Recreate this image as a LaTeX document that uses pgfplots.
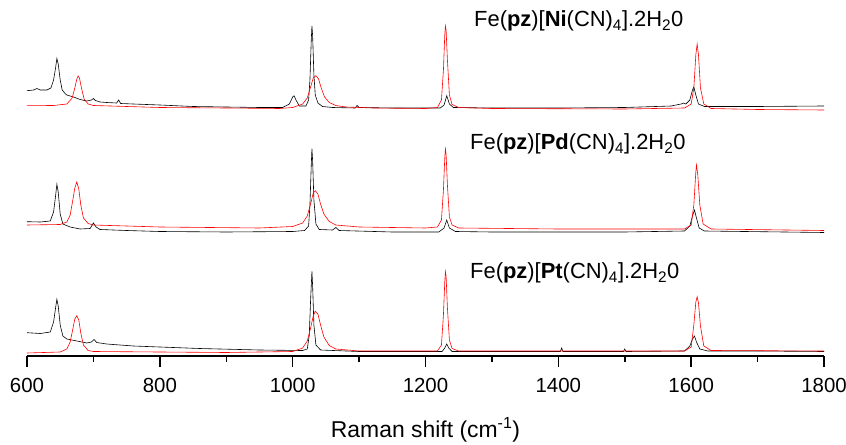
\documentclass[border=0pt]{standalone}
\usepackage{fontspec}
\setmainfont{Liberation Sans}
\usepackage{pgfplots}
\pgfplotsset{compat=1.18}
\begin{document}
\begin{tikzpicture}
\useasboundingbox (-27bp,-89bp) rectangle (819bp,356bp);
\begin{axis}[
  at={(0,0)}, anchor=south west,
  scale only axis, width=797bp, height=356bp,
  xmin=600, xmax=1800, ymin=0, ymax=356,
  axis x line*=bottom, axis y line=none,
  x axis line style={line width=1.5bp},
  xtick={600,800,...,1800}, minor x tick num=1,
  xtick align=outside,
  major tick length=11bp, minor tick length=6bp,
  every tick/.style={line width=1.5bp, black},
  /pgf/number format/assume math mode=true,
  /pgf/number format/1000 sep={},
  tick label style={font=\fontsize{20.5}{23}\selectfont},
  xticklabel style={yshift=-8bp},
  xlabel={Raman shift (cm\textsuperscript{-1})},
  xlabel style={at={(rel axis cs:0.5,0)}, anchor=center, yshift=-74bp, font=\fontsize{23}{26}\selectfont},
  clip=false,
]
% ---- Ni (top)
\addplot[black, line width=0.6pt] coordinates {
(600,265.3)(610,266)(615,267.5)(620,266)(630,266)(636,268)(640,276)(643,288)(645,297.5)(647,292)(650,276)(653,266)(658,262)(660,261)(670,259)(680,256.5)(690,255)(697,256)(700,257.5)(703,255.5)(710,254)(720,253.5)(735,253)(738,256)(741,252.5)(760,252)(800,251)(850,249.5)(900,249)(950,248.5)(985,248.5)(995,252)(1000,259)(1002,260.3)(1005,256)(1010,250)(1020,250)(1024,256)(1026,276)(1028,316)(1029,330)(1030,321)(1032,281)(1034,261)(1038,253)(1045,249.5)(1060,248.5)(1094,248)(1097,250.5)(1100,248.5)(1150,248)(1200,248)(1222,248)(1228,251)(1232,260.3)(1236,252)(1242,248.5)(1300,248)(1400,248)(1500,248.5)(1570,250)(1585,252)(1588,253)(1592,252)(1598,256)(1602,266)(1604,269)(1607,261)(1611,252)(1620,249.5)(1700,249.5)(1800,250)
};
\addplot[red, line width=0.6pt] coordinates {
(600,250.3)(640,250.5)(660,252)(668,258)(672,268)(675,277)(677,280)(679,278)(682,268)(686,257)(692,252)(700,250.5)(750,249.5)(800,248.5)(900,248)(980,247.5)(1000,248.5)(1015,252)(1022,258)(1027,269)(1031,278)(1035,280.3)(1039,277)(1043,268)(1048,259)(1055,253.5)(1065,250.5)(1080,249)(1120,248)(1200,247.5)(1218,248.5)(1224,256)(1227,286)(1229,321)(1230,330)(1231,326)(1233,296)(1236,261)(1240,251.5)(1250,248.5)(1300,247.5)(1500,247)(1590,248)(1600,252)(1604,268)(1607,301)(1609,312)(1611,301)(1614,268)(1619,252)(1630,247.5)(1700,246.5)(1800,246)
};
% ---- Pd (middle)
\addplot[black, line width=0.6pt] coordinates {
(600,134.3)(620,134)(635,135)(640,144)(643,160)(645,171.7)(647,164)(650,142)(654,132)(665,129)(680,127)(695,127.5)(700,133)(704,129)(710,126.5)(750,125.5)(800,124.5)(900,124)(1000,124.5)(1018,125.5)(1024,130)(1026,151)(1028,191)(1029,207.3)(1030,196)(1032,156)(1035,132)(1040,126.5)(1060,126)(1065,128.5)(1070,125.5)(1150,124)(1220,124)(1228,128)(1232,136)(1236,128)(1245,124.5)(1300,124)(1500,124)(1590,125)(1598,130)(1602,140)(1605,146)(1608,138)(1612,128)(1620,125)(1800,123.5)
};
\addplot[red, line width=0.6pt] coordinates {
(600,131)(650,131.5)(660,134)(665,141)(669,156)(672,168)(675,174)(678,167)(681,151)(685,138)(692,132.5)(700,131)(800,129)(950,128)(1000,129.5)(1015,133)(1022,140)(1027,152)(1031,163)(1034,165.3)(1038,162)(1042,152)(1047,142)(1055,134.5)(1065,131)(1100,129)(1200,128)(1218,129)(1224,136)(1227,166)(1229,198)(1230,207)(1231,202)(1233,171)(1236,139)(1240,131)(1250,128)(1400,127)(1590,127)(1600,131)(1604,151)(1607,184)(1608,191)(1610,181)(1613,151)(1618,132)(1630,127)(1800,125.5)
};
% ---- Pt (bottom)
\addplot[black, line width=0.6pt] coordinates {
(600,23.3)(620,22.5)(635,24)(640,34)(643,48)(645,56.7)(647,50)(650,31)(654,20)(660,17)(675,15)(690,13)(697,14)(701,16.5)(705,13.5)(720,12)(760,10)(800,9)(860,7.5)(950,6)(1015,5.5)(1022,7)(1025,21)(1027,56)(1029,84.7)(1030,71)(1032,31)(1035,11)(1042,6)(1100,4.5)(1225,4.5)(1229,8)(1232,12)(1235,8)(1240,4.5)(1403,4.5)(1405,8)(1407,4.5)(1498,4.5)(1500,7)(1502,4.5)(1590,5)(1598,10)(1602,17)(1605,20)(1608,14)(1613,7)(1625,5)(1700,5)(1800,4.5)
};
\addplot[red, line width=0.6pt] coordinates {
(600,3)(650,4)(660,7)(665,14)(669,27)(672,37)(675,40.3)(678,36)(681,23)(685,11)(692,5.5)(700,4.5)(900,3.5)(1000,4.5)(1015,8)(1022,15)(1027,28)(1031,40)(1034,44.7)(1038,42)(1042,31)(1047,19)(1055,10.5)(1065,7)(1100,5)(1218,5)(1224,11)(1227,41)(1229,74)(1230,84.3)(1231,80)(1233,48)(1236,16)(1240,7.5)(1250,5)(1590,5)(1600,9)(1604,31)(1607,54)(1609,59.3)(1611,53)(1614,30)(1619,10)(1630,5.5)(1800,5)
};
\node[anchor=west, font=\fontsize{22}{24}\selectfont, inner sep=0pt] at (axis cs:1273,335) {Fe(\textbf{pz})[\textbf{Ni}(CN)\textsubscript{4}].2H\textsubscript{2}0};
\node[anchor=west, font=\fontsize{22}{24}\selectfont, inner sep=0pt] at (axis cs:1267,212) {Fe(\textbf{pz})[\textbf{Pd}(CN)\textsubscript{4}].2H\textsubscript{2}0};
\node[anchor=west, font=\fontsize{22}{24}\selectfont, inner sep=0pt] at (axis cs:1267,83) {Fe(\textbf{pz})[\textbf{Pt}(CN)\textsubscript{4}].2H\textsubscript{2}0};
\end{axis}
\end{tikzpicture}
\end{document}
